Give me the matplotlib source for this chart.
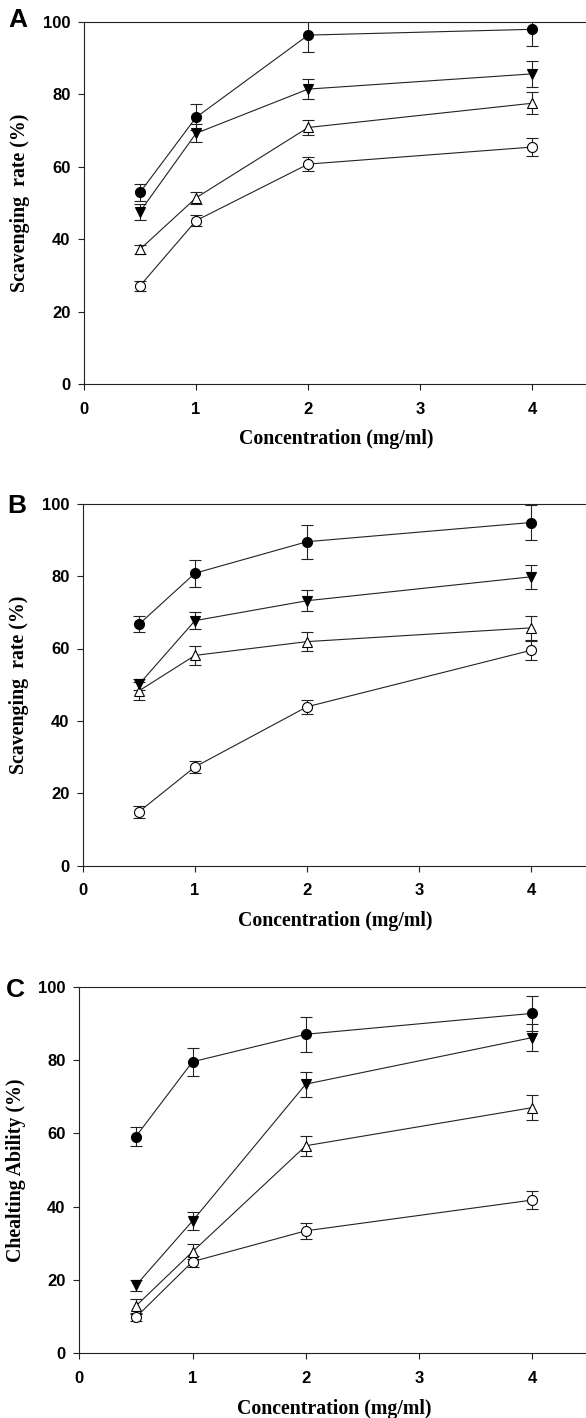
import matplotlib
matplotlib.use("Agg")
import matplotlib.pyplot as plt

x = [0.5, 1, 2, 4]

# Panel A
a_fc = [52.9, 73.6, 96.3, 97.9]; a_fc_e = [2.3, 3.6, 4.6, 4.6]
a_ft = [47.6, 69.2, 81.4, 85.6]; a_ft_e = [2.2, 2.5, 2.7, 3.5]
a_ot = [37.2, 51.4, 70.8, 77.5]; a_ot_e = [1.2, 1.7, 2.0, 3.0]
a_oc = [27.1, 45.1, 60.7, 65.4]; a_oc_e = [1.3, 1.6, 2.0, 2.4]

# Panel B
b_fc = [66.7, 80.8, 89.5, 94.8]; b_fc_e = [2.2, 3.7, 4.7, 4.8]
b_ft = [50.1, 67.7, 73.2, 79.8]; b_ft_e = [1.6, 2.4, 2.9, 3.3]
b_ot = [48.3, 58.1, 61.9, 65.7]; b_ot_e = [2.4, 2.6, 2.7, 3.3]
b_oc = [14.9, 27.3, 43.9, 59.5]; b_oc_e = [1.6, 1.7, 1.9, 2.7]

# Panel C
c_fc = [59.1, 79.5, 87.0, 92.7]; c_fc_e = [2.6, 3.8, 4.8, 4.8]
c_ft = [18.5, 36.1, 73.4, 86.1]; c_ft_e = [1.5, 2.5, 3.4, 3.6]
c_ot = [12.9, 27.7, 56.6, 67.0]; c_ot_e = [1.8, 2.1, 2.7, 3.5]
c_oc = [9.8, 25.0, 33.4, 41.8]; c_oc_e = [1.0, 1.5, 2.1, 2.5]

xticks = [0, 1, 2, 3, 4]
yticks = [0, 20, 40, 60, 80, 100]
xlabel = "Concentration (mg/ml)"
ylabels = ["Scavenging  rate (%)", "Scavenging  rate (%)", "Chealting Ability (%)"]
letters = ["A", "B", "C"]

W, H = 586, 1418
fig = plt.figure(figsize=(W / 100, H / 100), dpi=100)

# (left px, y0 px from top, px per x unit, px height)
layout = [(84, 384, 112.1, 362.3), (83, 865.7, 112.0, 362), (79.2, 1353.3, 113.3, 366.7)]
letter_pos = [(18, 20), (17, 506), (15, 990)]
panels = [
    (a_fc, a_fc_e, a_ft, a_ft_e, a_ot, a_ot_e, a_oc, a_oc_e),
    (b_fc, b_fc_e, b_ft, b_ft_e, b_ot, b_ot_e, b_oc, b_oc_e),
    (c_fc, c_fc_e, c_ft, c_ft_e, c_ot, c_ot_e, c_oc, c_oc_e),
]
xmax = 4.5

tickfont = dict(family="Liberation Sans", weight="bold", size=12)
labfont = dict(family="Liberation Serif", weight="bold", size=14.3)
ink = "#222222"

for i, (lp, y0, ppu, hpx) in enumerate(layout):
    ax = fig.add_axes([lp / W, (H - y0) / H, xmax * ppu / W, hpx / H])
    fc, fce, ft, fte, ot, ote, oc, oce = panels[i]
    common = dict(color=ink, lw=0.8, elinewidth=0.8, capsize=4, capthick=0.8,
                  markeredgewidth=0.8, markeredgecolor="black")
    ax.errorbar(x, oc, yerr=oce, fmt="-o", markersize=7.2, markerfacecolor="white", **common)
    ax.errorbar(x, ot, yerr=ote, fmt="-^", markersize=7.0, markerfacecolor="white", **common)
    ax.errorbar(x, ft, yerr=fte, fmt="-v", markersize=7.2, markerfacecolor="black", **common)
    ax.errorbar(x, fc, yerr=fce, fmt="-o", markersize=7.2, markerfacecolor="black", **common)
    ax.set_xlim(0, xmax)
    ax.set_ylim(0, 100)
    ax.set_xticks(xticks)
    ax.set_yticks(yticks)
    ax.set_xticklabels([str(t) for t in xticks], fontdict=tickfont)
    ax.set_yticklabels([str(t) for t in yticks], fontdict=tickfont)
    ax.tick_params(direction="out", length=4.3, width=0.8, colors=ink, labelcolor="black")
    ax.tick_params(axis="x", pad=8.5)
    ax.tick_params(axis="y", pad=5.5)
    for s in ax.spines.values():
        s.set_linewidth(0.8)
        s.set_color(ink)
    ax.spines["right"].set_visible(False)
    ax.set_xlabel(xlabel, fontdict=labfont, labelpad=9)
    ax.set_ylabel(ylabels[i], fontdict=labfont, labelpad=9)
    fig.text(letter_pos[i][0] / W, 1 - letter_pos[i][1] / H, letters[i],
             family="Liberation Sans", weight="bold", size=19, ha="center", va="center")

fig.savefig("out.png", dpi=100)
